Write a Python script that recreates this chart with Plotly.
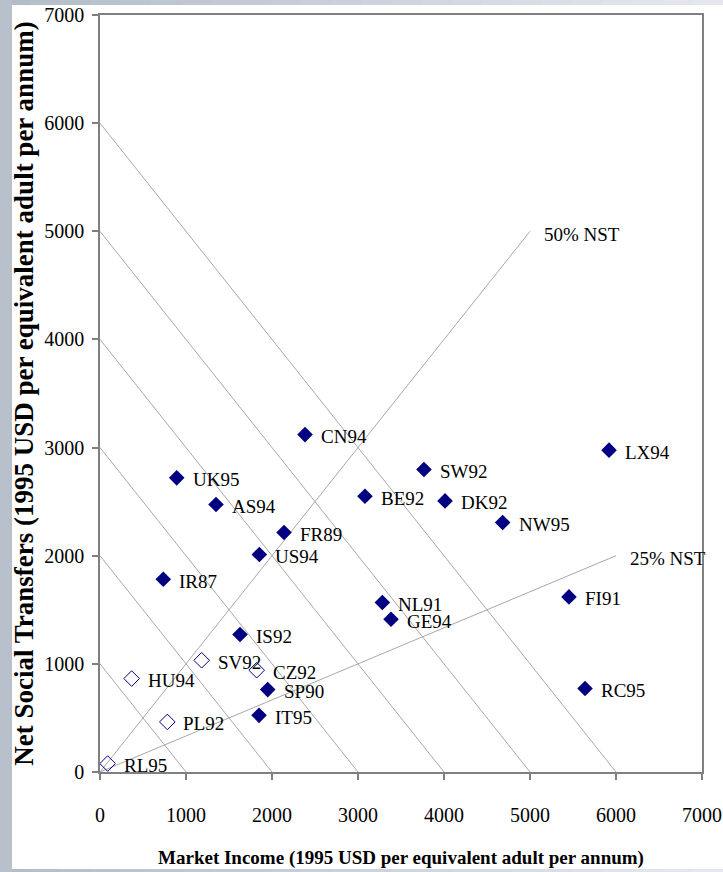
import plotly.graph_objects as go

# ---------------- data ----------------
filled_names = ["CN94", "UK95", "AS94", "FR89", "US94", "IR87", "NL91", "GE94",
                "SW92", "BE92", "DK92", "NW95", "LX94", "FI91", "RC95", "IS92",
                "SP90", "IT95"]
filled_mi = [2384, 892, 1349, 2140, 1853, 736, 3283, 3384,
             3767, 3081, 4012, 4682, 5919, 5453, 5640, 1628,
             1950, 1849]
filled_nst = [3120, 2720, 2474, 2215, 2011, 1783, 1567, 1413,
              2797, 2550, 2507, 2307, 2976, 1619, 772, 1271,
              762, 524]

open_names = ["SV92", "CZ92", "HU94", "PL92", "RL95"]
open_mi = [1182, 1822, 368, 783, 89]
open_nst = [1033, 941, 864, 463, 78]

iso_income_levels = [1000, 2000, 3000, 4000, 5000, 6000]
nst_share_labels = ["50% NST", "25% NST"]
nst_shares = [0.50, 0.25]
nst_line_end_mi = [5000, 6000]

tick_vals = [0, 1000, 2000, 3000, 4000, 5000, 6000, 7000]
tick_text = ["0", "1000", "2000", "3000", "4000", "5000", "6000", "7000"]

x_title = "Market Income (1995 USD per equivalent adult per annum)"
y_title = "Net Social Transfers (1995 USD per equivalent adult per annum)"

# ---------------- figure ----------------
FONT = "Liberation Serif"
NAVY = "#000080"
LINE_GRAY = "#a8a8a8"

fig = go.Figure()

for lvl in iso_income_levels:
    fig.add_trace(go.Scatter(x=[0, lvl], y=[lvl, 0], mode="lines",
                             line=dict(color=LINE_GRAY, width=1),
                             hoverinfo="skip", showlegend=False))

for share, end_mi in zip(nst_shares, nst_line_end_mi):
    fig.add_trace(go.Scatter(x=[0, end_mi], y=[0, end_mi * share / (1 - share)],
                             mode="lines", line=dict(color=LINE_GRAY, width=1),
                             hoverinfo="skip", showlegend=False))

fig.add_trace(go.Scatter(x=filled_mi, y=filled_nst, mode="markers",
                         marker=dict(symbol="diamond", size=12, color=NAVY,
                                     line=dict(width=0)),
                         text=filled_names, showlegend=False))
fig.add_trace(go.Scatter(x=open_mi, y=open_nst, mode="markers",
                         marker=dict(symbol="diamond-open", size=12, color=NAVY,
                                     line=dict(width=1, color=NAVY)),
                         text=open_names, showlegend=False))

annotations = []
for n, x, y in list(zip(filled_names, filled_mi, filled_nst)) + list(zip(open_names, open_mi, open_nst)):
    annotations.append(dict(x=x, y=y, text=n, showarrow=False, xanchor="left",
                            yanchor="middle", xshift=14, yshift=-2,
                            font=dict(family=FONT, size=19, color="black")))

for lab, share, end_mi in zip(nst_share_labels, nst_shares, nst_line_end_mi):
    annotations.append(dict(x=end_mi, y=end_mi * share / (1 - share), text=lab,
                            showarrow=False, xanchor="left", yanchor="middle",
                            xshift=12, yshift=-3,
                            font=dict(family=FONT, size=19, color="black")))

W, H = 723, 872
L, R, T, B = 100, 21, 15, 100
pw, ph = W - L - R, H - T - B


def px_x(p):
    return (p - L) / pw


def px_y(p):
    return (H - B - p) / ph


def lerp_hex(c1, c2, t):
    a = [int(c1[i:i + 2], 16) for i in (1, 3, 5)]
    b = [int(c2[i:i + 2], 16) for i in (1, 3, 5)]
    return "#" + "".join("%02x" % round(a[k] + (b[k] - a[k]) * t) for k in range(3))


shapes = []
# gradient bands on top and bottom edges (frame decoration)
n_steps = 24
for i in range(n_steps):
    t = i / (n_steps - 1)
    col = lerp_hex("#b4bcc8", "#e4e8ee", t)
    x0 = i * W / n_steps
    x1 = (i + 1) * W / n_steps + 1
    for (ya, yb) in ((0, 6), (868, H)):
        shapes.append(dict(type="rect", xref="paper", yref="paper",
                           x0=px_x(x0), x1=px_x(x1), y0=px_y(yb), y1=px_y(ya),
                           fillcolor=col, line=dict(width=0), layer="below"))
shapes.append(dict(type="rect", xref="paper", yref="paper",
                   x0=px_x(0), x1=px_x(12), y0=px_y(H), y1=px_y(0),
                   fillcolor="#b8c0cb", line=dict(width=0), layer="below"))
shapes.append(dict(type="rect", xref="paper", yref="paper",
                   x0=px_x(12), x1=px_x(730), y0=px_y(869), y1=px_y(5),
                   fillcolor="white", line=dict(width=0), layer="below"))

axis_common = dict(range=[0, 7000], tickvals=tick_vals, ticktext=tick_text,
                   showgrid=False, zeroline=False, showline=True,
                   linecolor="#808080", linewidth=1.5, mirror=True,
                   ticks="outside", ticklen=6, tickcolor="#808080", tickwidth=1.5,
                   tickfont=dict(family=FONT, size=20, color="black"))

fig.update_layout(
    width=W, height=H,
    margin=dict(l=L, r=R, t=T, b=B, autoexpand=False),
    paper_bgcolor="#bac2cd", plot_bgcolor="white",
    xaxis=dict(**axis_common, ticklabelstandoff=18,
               title=dict(text="<b>" + x_title + "</b>", standoff=26,
                          font=dict(family=FONT, size=19, color="black"))),
    yaxis=dict(**axis_common, ticklabelstandoff=4,
               title=dict(text="<b>" + y_title + "</b>", standoff=3,
                          font=dict(family=FONT, size=27, color="black"))),
    annotations=annotations,
    shapes=shapes,
    showlegend=False,
)

fig.write_html("out.html",
               config={"displayModeBar": False},
               post_script="document.body.style.margin='0px';"
                           "document.body.style.overflow='hidden';")
